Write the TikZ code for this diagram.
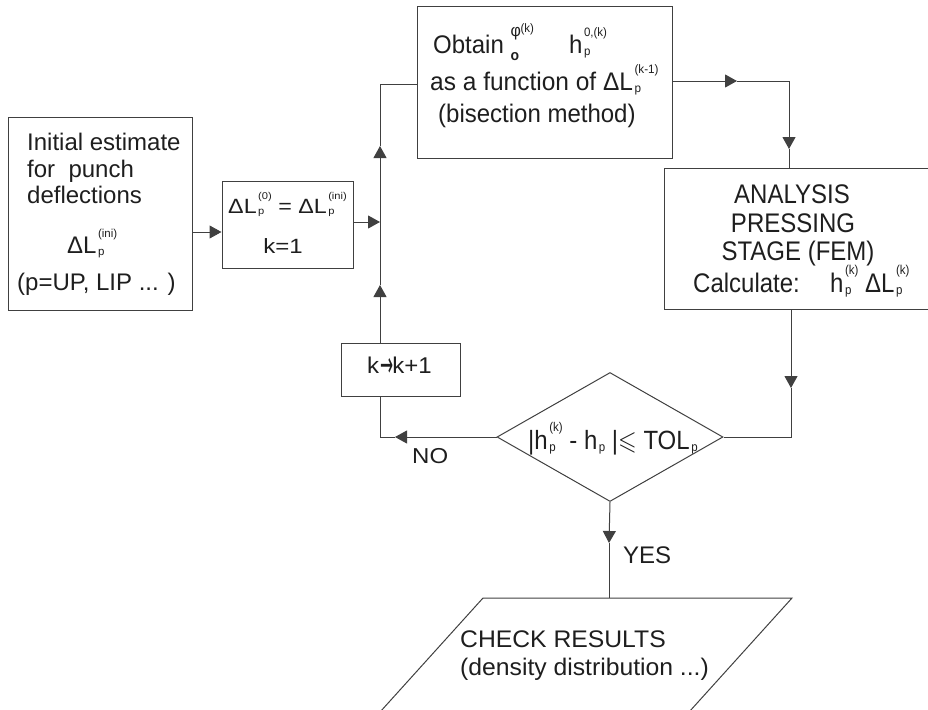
\documentclass[tikz,border=0pt]{standalone}
\usepackage{fontspec}
\setmainfont{Liberation Sans}
\newfontfamily\symfont{DejaVu Sans}
\usepackage{amssymb}
\usetikzlibrary{arrows.meta,shapes.geometric}

\definecolor{linec}{HTML}{404040}
\definecolor{textc}{HTML}{1E1E1E}

% script size for indices
\newcommand\scr{\fontsize{11.5}{11.5}\selectfont}
% stacked superscript (#1) and subscript (#2)
\newcommand\SupSub[2]{\kern1.5pt\sbox0{\scr #1}\sbox2{\scr #2}%
  \raisebox{16pt}{\usebox0}\kern-\wd0\raisebox{-2pt}{\usebox2}%
  \ifdim\wd0>\wd2 \kern\dimexpr\wd0-\wd2\relax\fi}
\newcommand\DL[1]{ΔL\SupSub{#1}{p}}

\tikzset{
  flow/.style={draw=linec, line width=1pt, line join=miter},
  arr/.style={flow, -{Triangle[length=12pt,width=13pt]}},
  box/.style={draw=linec, line width=1pt, rectangle, inner sep=0pt},
  txt/.style={inner sep=0pt, text=textc, font=\fontsize{24}{24}\selectfont},
}

\begin{document}
\begin{tikzpicture}[x=1pt, y=-1pt]
\useasboundingbox (0,0) rectangle (928,709);
\clip (0,0) rectangle (928,709);

% ---- boxes ----
\node[box, minimum width=184pt, minimum height=193pt] (b1) at (100,213.5) {};
\node[box, minimum width=131pt, minimum height=87pt] (b2) at (287.5,224.5) {};
\node[box, minimum width=255pt, minimum height=151pt] (top) at (544.5,82.5) {};
\node[box, minimum width=271pt, minimum height=141pt] (b3) at (799.5,238.5) {};
\node[box, minimum width=119pt, minimum height=53pt] (kb) at (400.5,369.5) {};
\node[shape=diamond, draw=linec, line width=1pt, inner sep=0pt,
      minimum width=226pt, minimum height=129pt] (dia) at (610,437) {};

% output parallelogram (runs past the lower edge)
\coordinate (pTL) at (483,598);
\coordinate (pTR) at (792,598);
\coordinate (pBR) at (680,722);
\coordinate (pBL) at (371,722);
\draw[flow] (pBL) -- (pTL) -- (pTR) -- (pBR);

% ---- texts ----
\node[txt, anchor=base west] (t1a) at (27,150) {Initial estimate};
\node[txt, anchor=base west] (t1b) at (27,177) {for\ \ punch};
\node[txt, anchor=base west] (t1c) at (27,203) {deflections};
\node[txt, anchor=base west] (t1d) at (67,253) {\DL{(ini)}};
\node[txt, anchor=base west] (t1e) at (17,290) {(p=UP, LIP ... )};

\node[txt, anchor=base west] (t2a) at (228,213) {\scalebox{0.97}[0.86]{\DL{(0)} = \DL{(ini)}}};
\node[txt, anchor=base] (t2b) at (283,253) {\scalebox{1}[0.86]{k=1}};

\node[txt, anchor=base west] (t3a) at (433,53) {\scalebox{1}[1.06]{Obtain
  \rlap{\raisebox{16pt}{\fontsize{16}{16}\selectfont φ}}%
  \raisebox{-7pt}{\fontsize{14}{14}\selectfont\bfseries o}\kern1.5pt%
  \raisebox{19pt}{\scr (k)}}};
\node[txt, anchor=base west] (t3b) at (569,53) {\scalebox{1}[1.06]{h\SupSub{0,(k)}{p}}};
\node[txt, anchor=base west] (t3c) at (430,90) {\scalebox{1.02}[1.06]{as a function of \DL{(k-1)}}};
\node[txt, anchor=base west] (t3d) at (438,122) {\scalebox{1}[1.06]{(bisection method)}};

\node[txt, anchor=base] (t4a) at (792,203) {\scalebox{1}[1.12]{ANALYSIS}};
\node[txt, anchor=base] (t4b) at (793,232) {\scalebox{1}[1.12]{PRESSING}};
\node[txt, anchor=base] (t4c) at (798,260) {\scalebox{1}[1.12]{STAGE (FEM)}};
\node[txt, anchor=base west] (t4d) at (693,292) {\scalebox{1}[1.12]{Calculate:}};
\node[txt, anchor=base west] (t4e) at (830,292) {\scalebox{1}[1.12]{h\SupSub{(k)}{p} \DL{(k)}}};

\node[txt, anchor=base west] (t5) at (367,373) {\scalebox{1}[0.95]{k\kern1pt{\symfont\raisebox{-3.5pt}{\scalebox{0.65}[1.5]{→}}}\kern-1pt k+1}};

\node[txt, anchor=base west] (t6) at (528,449) {\scalebox{1}[1.1]{|h\SupSub{(k)}{p} - h\SupSub{}{p} |$\leqslant$ TOL\SupSub{}{p}}};

\node[txt, anchor=base west] (no) at (412,463) {\scalebox{1}[0.9]{NO}};
\node[txt, anchor=base west] (yes) at (623,563) {YES};

\node[txt, anchor=base west] (t7a) at (460,647) {\scalebox{1.03}[1]{CHECK RESULTS}};
\node[txt, anchor=base west] (t7b) at (460,675) {\scalebox{1.03}[1]{(density distribution ...)}};

% ---- junction points on the connectors ----
\coordinate (r1) at (0,232);
\coordinate (jA) at (380,222);
\coordinate (upA) at (380,285);
\coordinate (upB) at (380,146);
\coordinate (cTL) at (380,84);
\coordinate (cTR) at (789,81);
\coordinate (rArr) at (737,81);
\coordinate (dArr) at (789,149);
\coordinate (dArr2) at (791,388);
\coordinate (cBR) at (791,437);
\coordinate (noArr) at (395,437);
\coordinate (cBL) at (380,437);
\coordinate (yesArr) at (609,543);
\coordinate (pTop) at (609,598);

% ---- connectors ----
\draw[arr] (b1.east |- r1) -- (b2.west |- r1);
\draw[arr] (b2.east |- jA) -- (jA);
\draw[arr] (kb.north -| upA) -- (upA);
\draw[flow] (upA) -- (jA);
\draw[arr] (jA) -- (upB);
\draw[flow] (upB) -- (cTL) -- (top.west |- cTL);
\draw[arr] (top.east |- cTR) -- (rArr);
\draw[arr] (rArr) -- (cTR) -- (dArr);
\draw[flow] (dArr) -- (b3.north -| dArr);
\draw[arr] (b3.south -| dArr2) -- (dArr2);
\draw[flow] (dArr2) -- (cBR) -- (dia.east);
\draw[arr] (dia.west) -- (noArr);
\draw[flow] (noArr) -- (cBL) -- (kb.south -| cBL);
\draw[arr] (dia.south) -- (yesArr);
\draw[flow] (yesArr) -- (pTop);
\end{tikzpicture}
\end{document}
